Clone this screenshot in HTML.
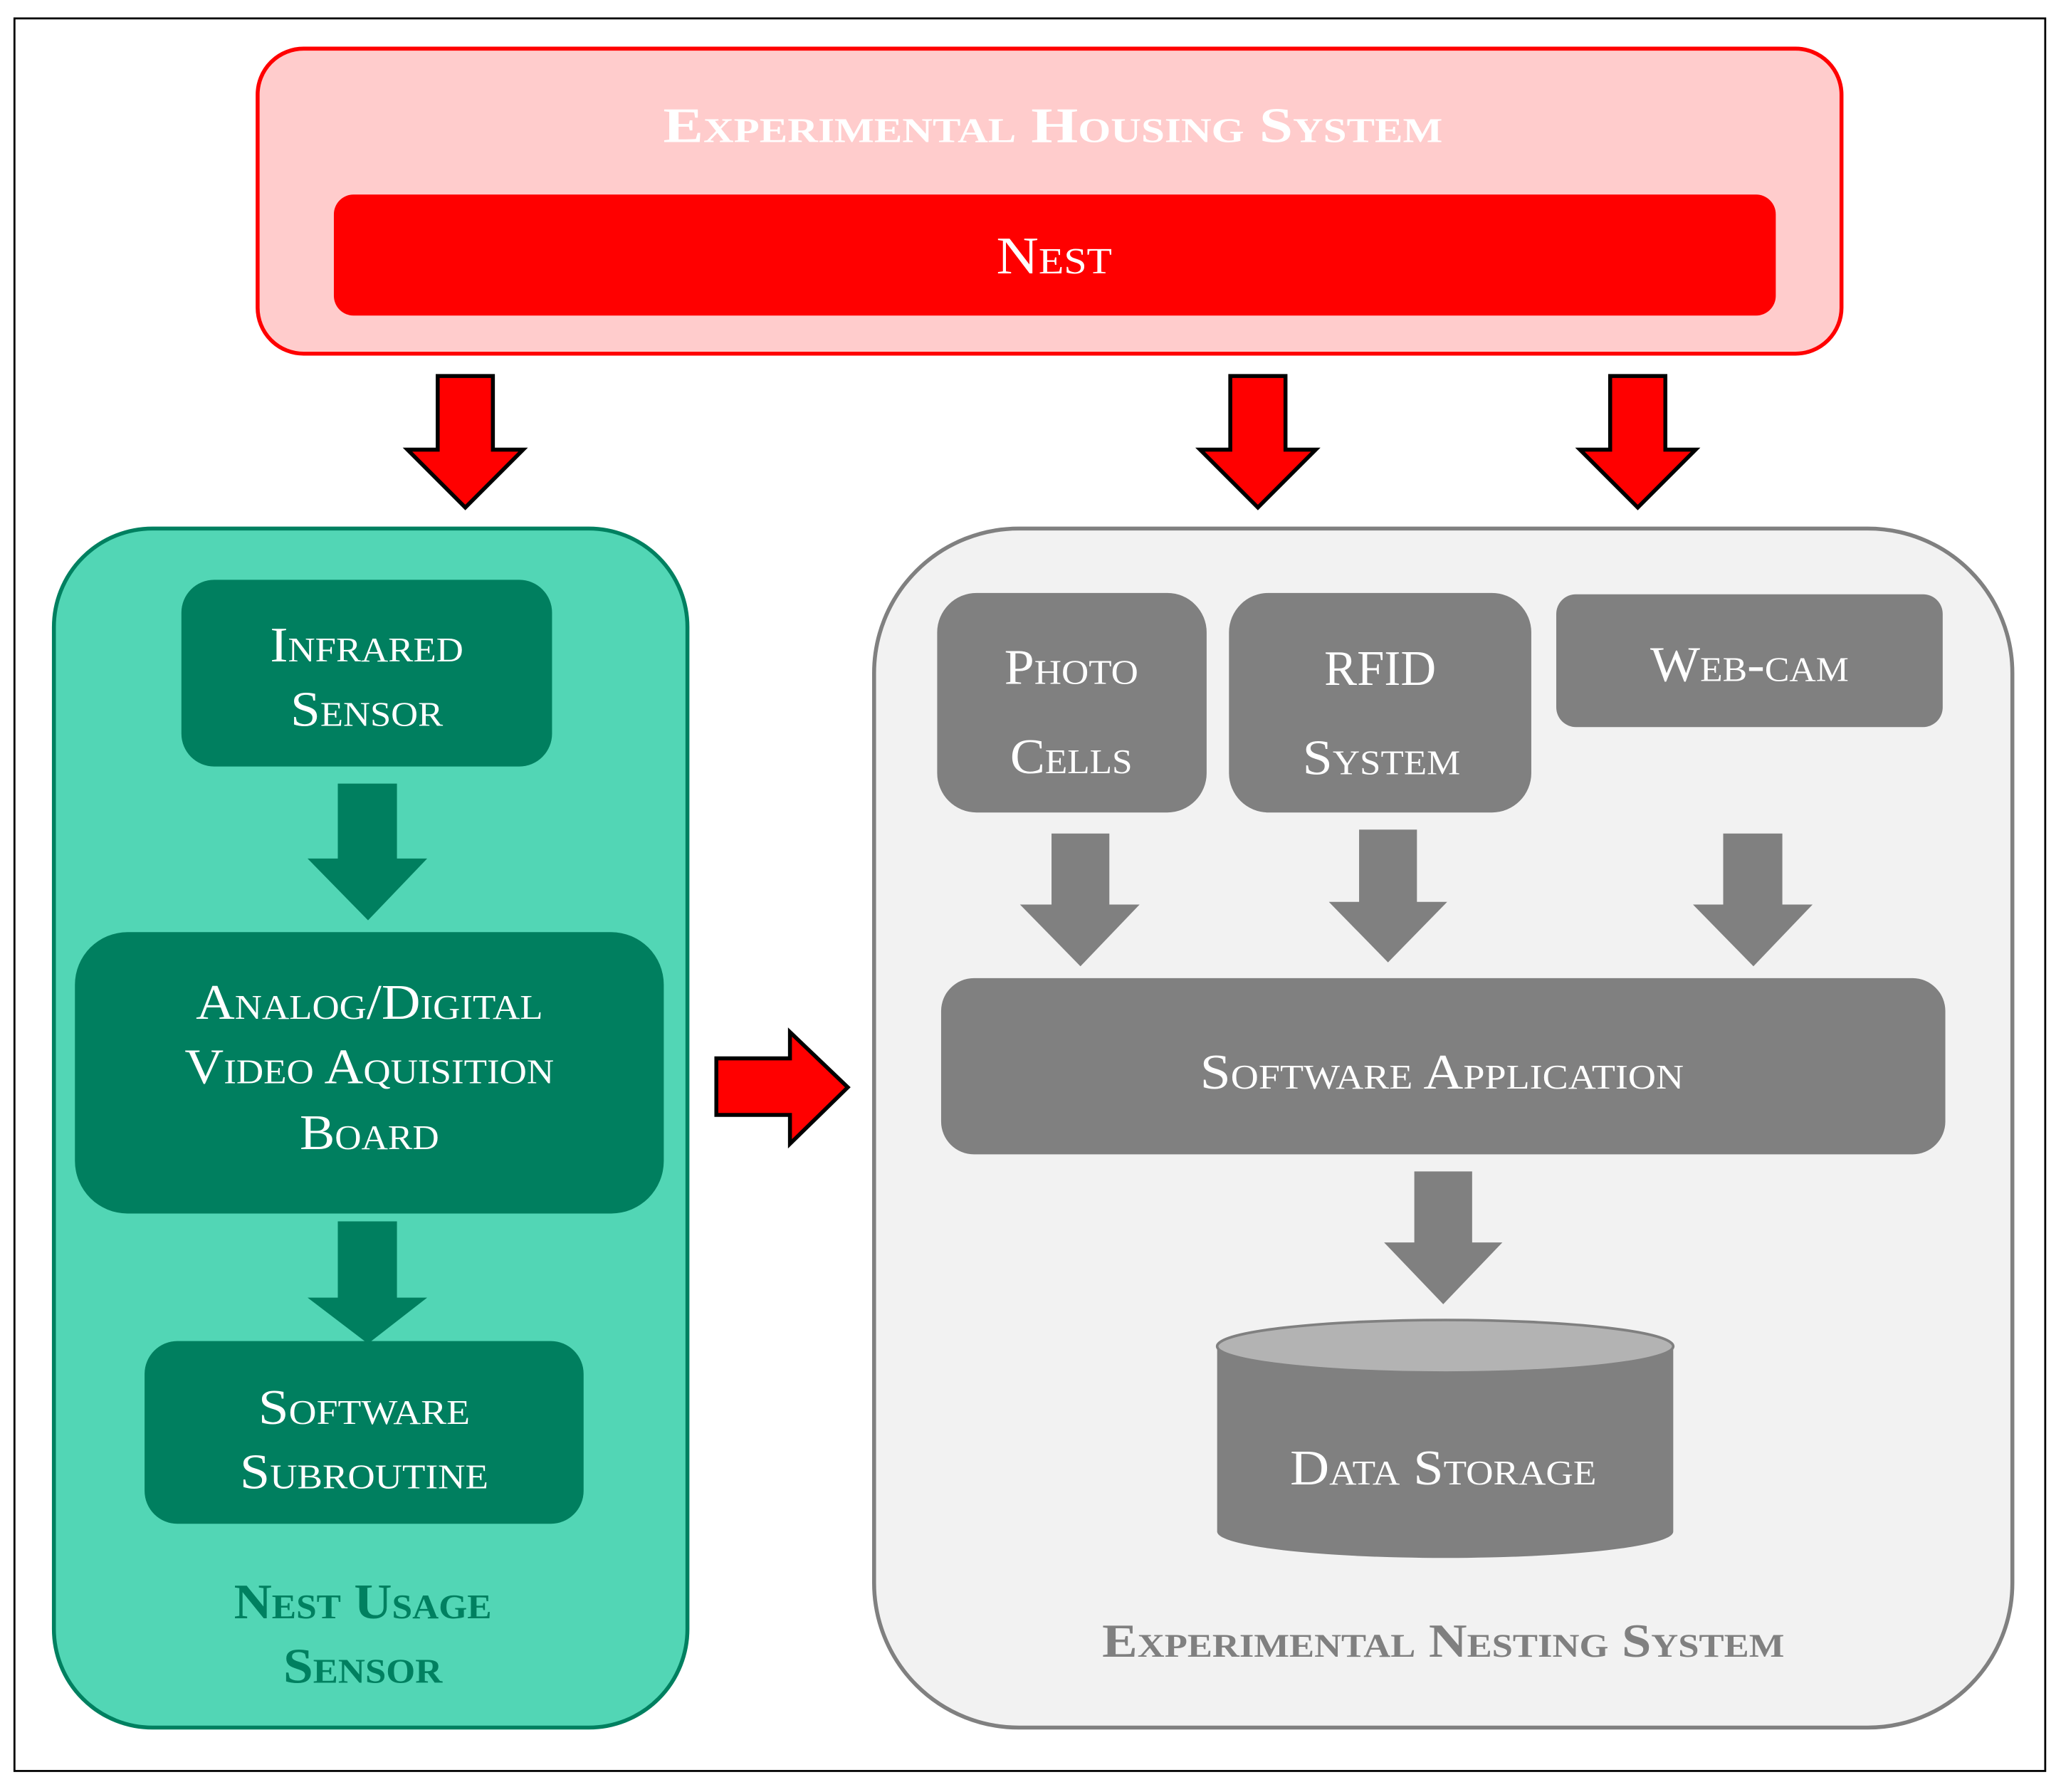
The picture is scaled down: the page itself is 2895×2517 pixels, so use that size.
<!DOCTYPE html>
<html><head><style>html,body{margin:0;padding:0;background:#fff}svg{display:block}
text{font-family:"Liberation Serif",serif;font-variant:small-caps;text-anchor:middle}</style></head>
<body>
<svg width="2895" height="2517" viewBox="0 0 1568 1363" preserveAspectRatio="none" xmlns="http://www.w3.org/2000/svg">
<rect x="0" y="0" width="1568" height="1363" fill="#fff"/>
<rect x="11" y="14" width="1545" height="1333" fill="none" stroke="#000" stroke-width="1.5"/>
<!-- housing -->
<rect x="196" y="37" width="1205" height="232" rx="35" fill="#ffcccc" stroke="#ff0000" stroke-width="3"/>
<text x="801" y="108" font-size="38" font-weight="bold" fill="#fff" textLength="593" lengthAdjust="spacingAndGlyphs">Experimental Housing System</text>
<rect x="254" y="148" width="1097" height="92" rx="15" fill="#ff0000"/>
<text x="802" y="208" font-size="40" fill="#fff" textLength="88" lengthAdjust="spacingAndGlyphs">Nest</text>
<!-- red down arrows -->
<g fill="#ff0000" stroke="#000" stroke-width="3" stroke-linejoin="miter">
<polygon points="333,286 375,286 375,342 398,342 354,386 310,342 333,342"/>
<polygon points="936,286 978,286 978,342 1001,342 957,386 913,342 936,342"/>
<polygon points="1225,286 1267,286 1267,342 1290,342 1246,386 1202,342 1225,342"/>
<polygon points="545,805 601,805 601,785 645,827 601,870 601,848 545,848"/>
</g>
<!-- green container -->
<rect x="41" y="402" width="482" height="912" rx="75" fill="#52d6b5" stroke="#008060" stroke-width="3"/>
<g fill="#007f5f">
<rect x="138" y="441" width="282" height="142" rx="25"/>
<rect x="57" y="709" width="448" height="214" rx="40"/>
<rect x="110" y="1020" width="334" height="139" rx="25"/>
<polygon points="257,596 302,596 302,653 325,653 280,700 234,653 257,653"/>
<polygon points="257,929 302,929 302,987 325,987 280,1022 234,987 257,987"/>
</g>
<g fill="#fff" font-size="38">
<text x="279" y="503" textLength="147" lengthAdjust="spacingAndGlyphs">Infrared</text>
<text x="279" y="552" textLength="116" lengthAdjust="spacingAndGlyphs">Sensor</text>
<text x="281" y="775" textLength="264" lengthAdjust="spacingAndGlyphs">Analog/Digital</text>
<text x="281" y="824" textLength="281" lengthAdjust="spacingAndGlyphs">Video Aquisition</text>
<text x="281" y="874" textLength="106" lengthAdjust="spacingAndGlyphs">Board</text>
<text x="277" y="1083" textLength="161" lengthAdjust="spacingAndGlyphs">Software</text>
<text x="277" y="1132" textLength="189" lengthAdjust="spacingAndGlyphs">Subroutine</text>
</g>
<g fill="#008060" font-size="38" font-weight="bold">
<text x="276" y="1231" textLength="196" lengthAdjust="spacingAndGlyphs">Nest Usage</text>
<text x="276" y="1280" textLength="121" lengthAdjust="spacingAndGlyphs">Sensor</text>
</g>
<!-- gray container -->
<rect x="665" y="402" width="866" height="912" rx="110" fill="#f2f2f2" stroke="#808080" stroke-width="3"/>
<g fill="#808080">
<rect x="713" y="451" width="205" height="167" rx="30"/>
<rect x="935" y="451" width="230" height="167" rx="30"/>
<rect x="1184" y="452" width="294" height="101" rx="15"/>
<rect x="716" y="744" width="764" height="134" rx="25"/>
<polygon points="800,634 844,634 844,688 867,688 822,735 776,688 800,688"/>
<polygon points="1034,631 1078,631 1078,686 1101,686 1056,732 1011,686 1034,686"/>
<polygon points="1311,634 1356,634 1356,688 1379,688 1334,735 1288,688 1311,688"/>
<polygon points="1076,891 1120,891 1120,945 1143,945 1098,992 1053,945 1076,945"/>
<path d="M926,1024 L926,1165 A173.5,20 0 0 0 1273,1165 L1273,1024 Z"/>
</g>
<ellipse cx="1099.5" cy="1024" rx="173.5" ry="20" fill="#b3b3b3" stroke="#808080" stroke-width="2"/>
<g fill="#fff" font-size="38">
<text x="815" y="520" textLength="102" lengthAdjust="spacingAndGlyphs">Photo</text>
<text x="815" y="588" textLength="93" lengthAdjust="spacingAndGlyphs">Cells</text>
<text x="1050" y="521" textLength="85" lengthAdjust="spacingAndGlyphs">RFID</text>
<text x="1051" y="589" textLength="120" lengthAdjust="spacingAndGlyphs">System</text>
<text x="1331" y="518" textLength="151" lengthAdjust="spacingAndGlyphs">Web-cam</text>
<text x="1097" y="828" textLength="368" lengthAdjust="spacingAndGlyphs">Software Application</text>
<text x="1098" y="1129" textLength="233" lengthAdjust="spacingAndGlyphs">Data Storage</text>
</g>
<text x="1098" y="1260" font-size="36" font-weight="bold" fill="#808080" textLength="519" lengthAdjust="spacingAndGlyphs">Experimental Nesting System</text>
</svg>
</body></html>
